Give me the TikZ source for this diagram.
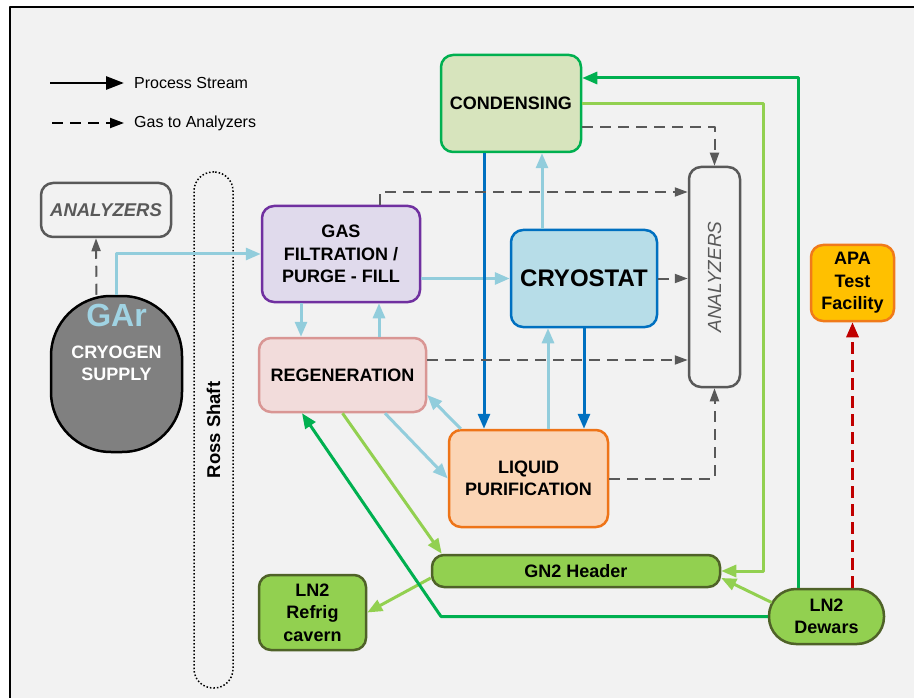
\documentclass[tikz,border=0pt]{standalone}
\usepackage{fontspec}
\setmainfont{Liberation Sans}
\usetikzlibrary{arrows.meta, positioning}

\definecolor{cBg}{HTML}{F2F2F2}
\definecolor{cCondF}{HTML}{D7E4BD}
\definecolor{cCondL}{HTML}{00B050}
\definecolor{cGasF}{HTML}{E0DAEC}
\definecolor{cGasL}{HTML}{7030A0}
\definecolor{cCryoF}{HTML}{B7DDE8}
\definecolor{cCryoL}{HTML}{0070C0}
\definecolor{cRegF}{HTML}{F2DCDB}
\definecolor{cRegL}{HTML}{D99694}
\definecolor{cLpF}{HTML}{FBD5B5}
\definecolor{cLpL}{HTML}{EE7418}
\definecolor{cNF}{HTML}{92D050}
\definecolor{cNL}{HTML}{4F6228}
\definecolor{cApaF}{HTML}{FFC000}
\definecolor{cApaL}{HTML}{F07A1A}
\definecolor{cAna}{HTML}{595959}
\definecolor{cLBlue}{HTML}{92CDDC}
\definecolor{cGArTxt}{HTML}{A0D3E3}
\definecolor{cRed}{HTML}{C00000}

\begin{document}
\begin{tikzpicture}[x=1pt, y=-1pt, line join=round,
    box/.style={draw, rounded corners=12pt, line width=2.5pt, align=center, inner sep=2pt,
      font=\bfseries\fontsize{18}{22.5}\selectfont},
    greenbox/.style={box, draw=cNL, fill=cNF},
    anabox/.style={box, draw=cAna, fill=cBg, text=cAna},
    pipe/.style={line width=3pt, -{Triangle[length=15pt, width=12pt]}},
    lbpipe/.style={pipe, draw=cLBlue},
    dbpipe/.style={pipe, draw=cCryoL},
    grpipe/.style={pipe, draw=cCondL},
    lgpipe/.style={pipe, draw=cNF},
    gasline/.style={draw=cAna, line width=2pt, dash pattern=on 11pt off 7pt,
      -{Triangle[length=13pt, width=9pt]}},
    legtext/.style={anchor=west, inner sep=0pt, font=\fontsize{16}{19}\selectfont}]
  \useasboundingbox (0,0) rectangle (914,698);
  \fill[white] (0,0) rectangle (914,698);
  \draw[line width=2pt, fill=cBg] (10,7) rectangle (940,720);

  % legend
  \node[legtext] (procS) at (134,83) {Process Stream};
  \node[legtext, below=40pt of procS.west, anchor=west] (gasA) {Gas to Analyzers};
  \coordinate (leg1) at (50,83);
  \coordinate (leg2) at (52,123);
  \draw[line width=2.8pt, -{Triangle[length=18pt, width=13pt]}] (leg1) -- ([xshift=-10pt]procS.west);
  \draw[line width=2pt, dash pattern=on 11pt off 7pt, -{Triangle[length=14pt, width=10pt]}]
    (leg2) -- ([xshift=-10pt]gasA.west);

  % boxes
  \node[box, draw=cCondL, fill=cCondF, minimum width=140pt, minimum height=97pt] (cond) at (511,103.5) {CONDENSING};
  \node[box, draw=cGasL, fill=cGasF, minimum width=158pt, minimum height=96pt] (gasf) at (341,254) {GAS\\FILTRATION /\\PURGE - FILL};
  \node[box, draw=cCryoL, fill=cCryoF, minimum width=146pt, minimum height=97pt,
    font=\bfseries\fontsize{24}{28}\selectfont] (cryo) at (584,278.5) {CRYOSTAT};
  \node[box, draw=cRegL, fill=cRegF, minimum width=167pt, minimum height=74pt] (regen) at (342.5,375) {REGENERATION};
  \node[box, draw=cLpL, fill=cLpF, minimum width=159pt, minimum height=97pt] (lpur) at (528.5,478.5) {LIQUID\\PURIFICATION};
  \node[greenbox, minimum width=288pt, minimum height=32pt] (gn2) at (576,571) {GN2 Header};
  \node[greenbox, minimum width=107pt, minimum height=75pt] (ln2r) at (312.5,612.5) {LN2\\Refrig\\cavern};
  \node[greenbox, rounded corners=27pt, minimum width=115pt, minimum height=55pt] (dewar) at (826.5,616.5) {LN2\\Dewars};
  \node[box, draw=cApaL, fill=cApaF, minimum width=83pt, minimum height=76pt] (apa) at (852.5,283) {APA\\Test\\Facility};
  \node[anabox, minimum width=130pt, minimum height=54pt,
    font=\bfseries\itshape\fontsize{18.5}{22}\selectfont] (anaL) at (106,210) {ANALYZERS};
  \node[anabox, minimum width=51pt, minimum height=220pt,
    font=\itshape\fontsize{19}{22}\selectfont] (anaR) at (714.5,277) {\rotatebox{90}{ANALYZERS}};
  \node[draw, dotted, line width=1.5pt, rounded corners=19pt, minimum width=39pt, minimum height=516pt,
    font=\bfseries\fontsize{18.5}{22}\selectfont] (ross) at (213.5,430) {\rotatebox{90}{Ross Shaft}};
  \node[draw, line width=2.5pt, fill=gray, rounded corners=60pt, minimum width=131pt, minimum height=156pt] (gar) at (116.5,374) {};
  \node[font=\bfseries\fontsize{32}{32}\selectfont, text=cGArTxt] (garT) at (116.5,315) {GAr};
  \node[font=\bfseries\fontsize{18}{22}\selectfont, text=white, align=center] (garS) at (116.5,363) {CRYOGEN\\SUPPLY};

  % process streams
  \draw[lbpipe] (gar.north) |- (gasf.west);
  \draw[lbpipe] (gasf.east |- cryo.west) -- (cryo.west);
  \draw[lbpipe] (301,0 |- gasf.south) -- (301,0 |- regen.north);
  \draw[lbpipe] (379,0 |- regen.north) -- (379,0 |- gasf.south);
  \draw[lbpipe] (542,0 |- cryo.north) -- (542,0 |- cond.south);
  \draw[lbpipe] (548,0 |- lpur.north) -- (548,0 |- cryo.south);
  \draw[lbpipe] ([xshift=13pt]lpur.north west) -- ([yshift=-20pt]regen.east);
  \draw[lbpipe] ([xshift=42.5pt]regen.south) -- (lpur.west);
  \draw[dbpipe] (484,0 |- cond.south) -- (484,0 |- lpur.north);
  \draw[dbpipe] (cryo.south) -- (cryo.south |- lpur.north);
  \draw[lgpipe] (regen.south) -- ([xshift=11pt]gn2.north west);
  \draw[lgpipe] (cond.east) -| (763,0 |- gn2.east) -- (gn2.east);
  \draw[lgpipe] ([xshift=4pt, yshift=14pt]dewar.west) -- ([yshift=-7pt]gn2.east);
  \draw[lgpipe] ([yshift=-7pt]gn2.west) -- (ln2r.east);
  \draw[grpipe] (dewar.west) -- (441,0 |- dewar.west) -- ([xshift=-40.5pt]regen.south);
  \draw[grpipe] (798,0 |- dewar.north) |- ([yshift=25.5pt]cond.east);
  \draw[line width=3pt, draw=cRed, dash pattern=on 12pt off 6pt, -{Triangle[length=15pt, width=12pt]}]
    (apa.south |- dewar.north) -- (apa.south);

  % gas to analyzers
  \draw[gasline] ([xshift=-20pt]gar.north) -- ([xshift=-10pt]anaL.south);
  \draw[gasline] ([yshift=-23.5pt]cond.east) -| (anaR.north);
  \draw[gasline] (380,0 |- gasf.north) |- (anaR.west |- 0,192);
  \draw[gasline] (cryo.east) -- (cryo.east -| anaR.west);
  \draw[gasline] ([yshift=15pt]regen.east) coordinate (r1) -- (r1 -| anaR.west);
  \draw[gasline] (lpur.east) -| (anaR.south);
\end{tikzpicture}
\end{document}
